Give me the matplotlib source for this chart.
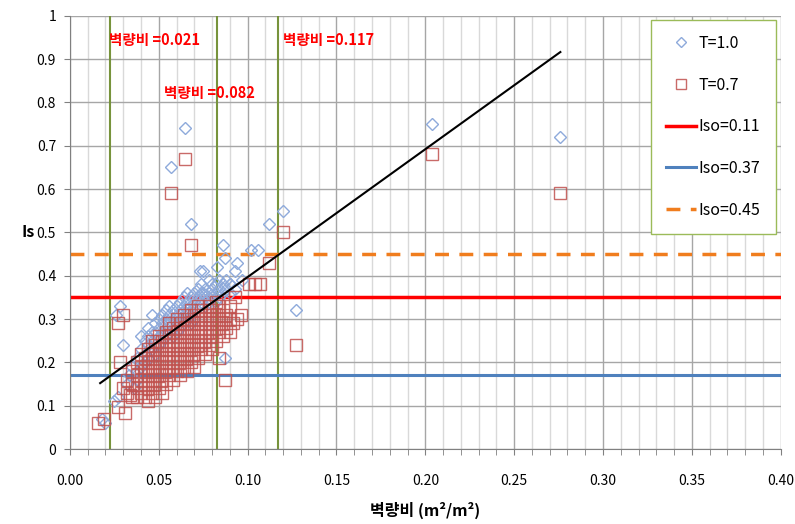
#!/usr/bin/env python3
"""
Wall-ratio vs Is scatter chart (T=1.0 / T=0.7) with Iso reference lines
"""

import matplotlib
matplotlib.use('Agg')
import matplotlib.pyplot as plt
from matplotlib.ticker import MultipleLocator, FuncFormatter

plt.rcParams['font.family'] = ['Noto Sans CJK KR', 'DejaVu Sans']

# T=1.0 series (diamonds)
t10_x = [0.018, 0.020, 0.025, 0.027, 0.028, 0.026, 0.030, 0.033, 0.035, 0.032, 0.036,
         0.057, 0.065, 0.068, 0.204, 0.276, 0.120, 0.112, 0.127, 0.102, 0.106,
         0.086, 0.087, 0.094, 0.093, 0.083, 0.087, 0.090, 0.097, 0.073, 0.075, 0.080, 0.075,
         0.038, 0.038, 0.038, 0.040, 0.040, 0.040, 0.042, 0.042, 0.042,
         0.044, 0.044, 0.044, 0.044, 0.046, 0.046, 0.046, 0.046,
         0.048, 0.048, 0.048, 0.048, 0.050, 0.050, 0.050, 0.050,
         0.052, 0.052, 0.052, 0.052, 0.054, 0.054, 0.054, 0.054,
         0.056, 0.056, 0.056, 0.056, 0.058, 0.058, 0.058, 0.058,
         0.060, 0.060, 0.060, 0.060, 0.062, 0.062, 0.062, 0.062,
         0.064, 0.064, 0.064, 0.064, 0.066, 0.066, 0.066, 0.066,
         0.068, 0.068, 0.068, 0.068, 0.070, 0.070, 0.070, 0.070,
         0.072, 0.072, 0.072, 0.074, 0.074, 0.074, 0.076, 0.076, 0.076,
         0.078, 0.078, 0.078, 0.080, 0.080, 0.082, 0.082, 0.082,
         0.084, 0.084, 0.084, 0.086, 0.086, 0.088, 0.088, 0.090, 0.090, 0.093]
t10_y = [0.07, 0.06, 0.11, 0.12, 0.33, 0.31, 0.24, 0.17, 0.19, 0.15, 0.14,
         0.65, 0.74, 0.52, 0.75, 0.72, 0.55, 0.52, 0.32, 0.46, 0.46,
         0.47, 0.44, 0.43, 0.41, 0.42, 0.21, 0.38, 0.39, 0.41, 0.41, 0.38, 0.36,
         0.18, 0.21, 0.16, 0.19, 0.23, 0.26, 0.22, 0.25, 0.20,
         0.26, 0.24, 0.21, 0.28, 0.25, 0.27, 0.23, 0.31,
         0.27, 0.29, 0.24, 0.22, 0.26, 0.28, 0.30, 0.24,
         0.29, 0.31, 0.27, 0.25, 0.28, 0.30, 0.32, 0.26,
         0.29, 0.31, 0.33, 0.27, 0.30, 0.32, 0.28, 0.26,
         0.31, 0.33, 0.29, 0.27, 0.32, 0.30, 0.34, 0.28,
         0.33, 0.31, 0.29, 0.35, 0.34, 0.32, 0.30, 0.36,
         0.33, 0.35, 0.31, 0.29, 0.34, 0.36, 0.32, 0.30,
         0.35, 0.37, 0.33, 0.36, 0.34, 0.38, 0.35, 0.37, 0.33,
         0.36, 0.34, 0.39, 0.37, 0.35, 0.36, 0.38, 0.34,
         0.37, 0.39, 0.35, 0.36, 0.38, 0.39, 0.37, 0.38, 0.36, 0.37]

# T=0.7 series (squares)
t07_x = [0.016, 0.019, 0.027, 0.030, 0.028, 0.030, 0.034, 0.027, 0.031,
         0.057, 0.065, 0.068, 0.204, 0.276, 0.120, 0.112, 0.127, 0.101, 0.104, 0.107,
         0.087, 0.084, 0.093, 0.094, 0.096, 0.092,
         0.032, 0.032, 0.035, 0.035, 0.035, 0.038, 0.038, 0.038, 0.038,
         0.040, 0.040, 0.040, 0.040, 0.042, 0.042, 0.042, 0.042,
         0.044, 0.044, 0.044, 0.044, 0.044, 0.046, 0.046, 0.046, 0.046, 0.046,
         0.048, 0.048, 0.048, 0.048, 0.048, 0.050, 0.050, 0.050, 0.050, 0.050,
         0.052, 0.052, 0.052, 0.052, 0.052, 0.054, 0.054, 0.054, 0.054, 0.054,
         0.056, 0.056, 0.056, 0.056, 0.056, 0.058, 0.058, 0.058, 0.058, 0.058,
         0.060, 0.060, 0.060, 0.060, 0.060, 0.062, 0.062, 0.062, 0.062, 0.062,
         0.064, 0.064, 0.064, 0.064, 0.064, 0.066, 0.066, 0.066, 0.066, 0.066,
         0.068, 0.068, 0.068, 0.068, 0.068, 0.070, 0.070, 0.070, 0.070, 0.070,
         0.072, 0.072, 0.072, 0.072, 0.072, 0.074, 0.074, 0.074, 0.074,
         0.076, 0.076, 0.076, 0.076, 0.078, 0.078, 0.078, 0.078,
         0.080, 0.080, 0.080, 0.080, 0.082, 0.082, 0.082, 0.082,
         0.084, 0.084, 0.084, 0.086, 0.086, 0.086, 0.088, 0.088, 0.090, 0.090, 0.090]
t07_y = [0.06, 0.07, 0.29, 0.31, 0.20, 0.14, 0.125, 0.097, 0.083,
         0.59, 0.67, 0.47, 0.68, 0.59, 0.50, 0.43, 0.24, 0.38, 0.38, 0.38,
         0.16, 0.21, 0.35, 0.30, 0.31, 0.29,
         0.13, 0.16, 0.15, 0.12, 0.18, 0.14, 0.17, 0.20, 0.12,
         0.16, 0.13, 0.19, 0.22, 0.15, 0.18, 0.21, 0.12,
         0.17, 0.20, 0.14, 0.23, 0.11, 0.16, 0.19, 0.22, 0.13, 0.25,
         0.18, 0.21, 0.15, 0.24, 0.12, 0.17, 0.20, 0.23, 0.14, 0.26,
         0.19, 0.22, 0.16, 0.25, 0.13, 0.18, 0.21, 0.24, 0.27, 0.15,
         0.20, 0.23, 0.17, 0.26, 0.29, 0.19, 0.22, 0.25, 0.28, 0.16,
         0.21, 0.24, 0.18, 0.27, 0.30, 0.20, 0.23, 0.26, 0.29, 0.17,
         0.22, 0.25, 0.28, 0.19, 0.31, 0.21, 0.24, 0.27, 0.30, 0.18,
         0.23, 0.26, 0.29, 0.20, 0.32, 0.22, 0.25, 0.28, 0.31, 0.19,
         0.24, 0.27, 0.30, 0.21, 0.33, 0.23, 0.26, 0.29, 0.32,
         0.25, 0.28, 0.31, 0.22, 0.24, 0.27, 0.30, 0.33,
         0.26, 0.29, 0.32, 0.23, 0.25, 0.28, 0.31, 0.34,
         0.27, 0.30, 0.33, 0.26, 0.29, 0.32, 0.28, 0.31, 0.27, 0.30, 0.33]

# Linear trend line
fit_x = [0.017, 0.276]
fit_slope = 2.95
fit_intercept = 0.102

# Reference lines
iso_levels = [0.35, 0.17, 0.45]
iso_labels = ['Iso=0.11', 'Iso=0.37', 'Iso=0.45']
wall_ratios = [0.021, 0.082, 0.117]
wall_line_x = [0.0225, 0.083, 0.117]
wall_text_pos = [(0.022, 0.945), (0.053, 0.822), (0.120, 0.945)]

fig = plt.figure(figsize=(7.95, 5.24), dpi=100)
ax = fig.add_axes([0.088, 0.143, 0.894, 0.827])

ax.set_xlim(0, 0.40)
ax.set_ylim(0, 1.0)

# gridlines
ax.xaxis.set_major_locator(MultipleLocator(0.05))
ax.xaxis.set_minor_locator(MultipleLocator(0.01))
ax.yaxis.set_major_locator(MultipleLocator(0.1))
ax.grid(True, which='minor', axis='x', color='#d9d9d9', linewidth=1)
ax.grid(True, which='major', axis='x', color='#a6a6a6', linewidth=1)
ax.grid(True, which='major', axis='y', color='#a6a6a6', linewidth=1)
ax.set_axisbelow(True)

for wx in wall_line_x:
    ax.axvline(wx, color='#77933C', linewidth=1.5, zorder=1.5)

ax.plot(t10_x, t10_y, linestyle='none', marker='D', markersize=6.5,
        markerfacecolor='none', markeredgecolor='#8EAADB', markeredgewidth=1,
        label='T=1.0', zorder=3)
ax.plot(t07_x, t07_y, linestyle='none', marker='s', markersize=8.5,
        markerfacecolor='none', markeredgecolor='#C0504D', markeredgewidth=1,
        alpha=0.85, label='T=0.7', zorder=3)

ax.axhline(iso_levels[0], color='#FF0000', linewidth=2.5, label=iso_labels[0], zorder=2)
ax.axhline(iso_levels[1], color='#4F81BD', linewidth=2.2, label=iso_labels[1], zorder=2)
ax.axhline(iso_levels[2], color='#F07D1E', linewidth=2.5, linestyle=(0, (4, 3)),
           label=iso_labels[2], zorder=2)

fit_y = [fit_slope * x + fit_intercept for x in fit_x]
ax.plot(fit_x, fit_y, color='black', linewidth=1.5, zorder=4)

for wr, (tx, ty) in zip(wall_ratios, wall_text_pos):
    ax.text(tx, ty, f'벽량비 ={wr:.3f}', color='#FF0000', fontsize=10.5,
            fontweight='bold', ha='left', va='center', zorder=5)

ax.xaxis.set_major_formatter(FuncFormatter(lambda v, p: f'{v:.2f}'))
ax.yaxis.set_major_formatter(FuncFormatter(lambda v, p: f'{v:g}'))
ax.tick_params(axis='both', which='major', labelsize=10, color='#808080',
               length=4, pad=14)
ax.tick_params(axis='y', pad=6)
ax.tick_params(axis='x', which='minor', color='#808080', length=4)

for side in ['top', 'right']:
    ax.spines[side].set_visible(False)
for side in ['left', 'bottom']:
    ax.spines[side].set_color('#808080')

ax.set_xlabel('벽량비 (m²/m²)', fontsize=11.5, fontweight='bold', labelpad=10)
ax.set_ylabel('Is', fontsize=11.5, fontweight='bold', rotation=0, labelpad=6, va='center')

leg = ax.legend(loc='upper right', bbox_to_anchor=(0.993, 0.991), fontsize=11.5,
                labelspacing=1.55, borderpad=0.95, handlelength=1.9, handletextpad=0.15,
                borderaxespad=0, fancybox=False, framealpha=1, edgecolor='#9BBB59',
                markerscale=0.8)
leg.get_frame().set_linewidth(1)

plt.savefig('out.png', dpi=100)
plt.close()
